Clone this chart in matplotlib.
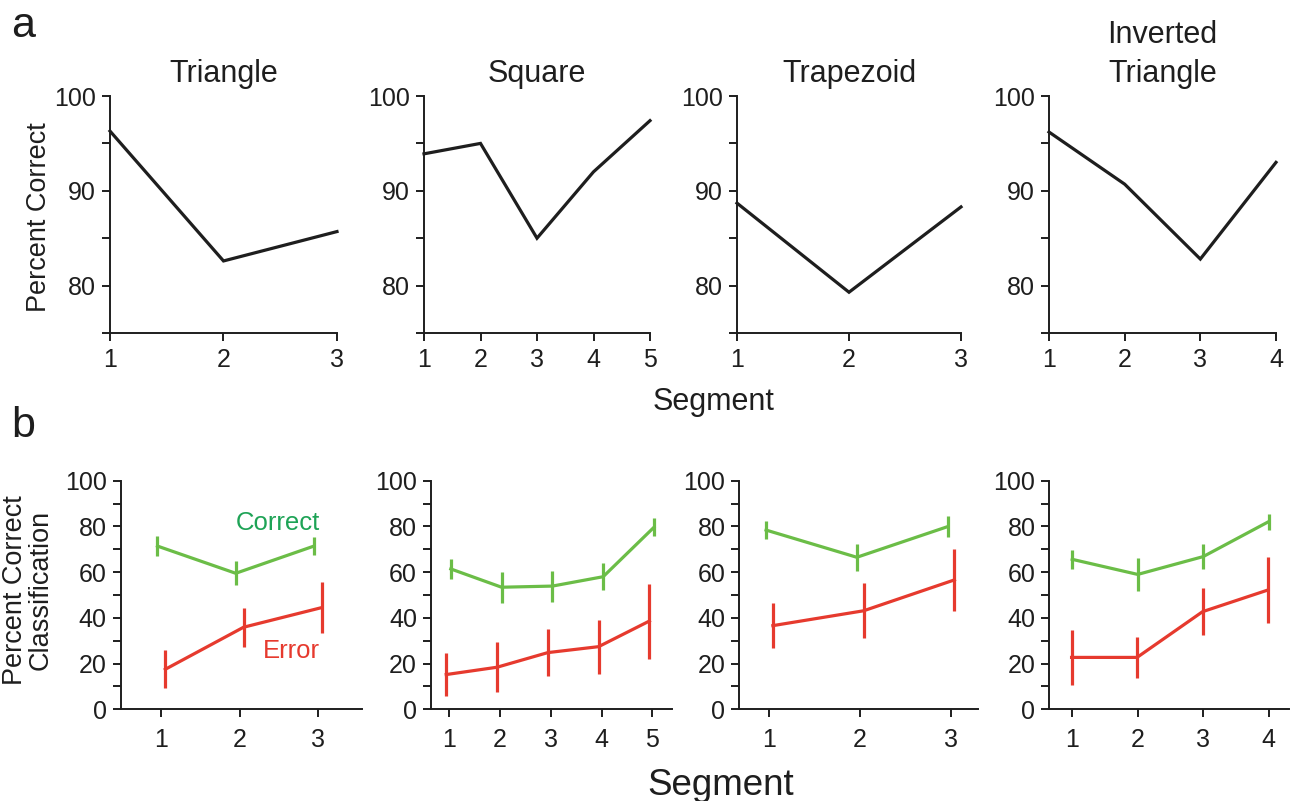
import matplotlib
matplotlib.use("Agg")
import matplotlib.pyplot as plt

plt.rcParams['font.family'] = ['Liberation Sans', 'DejaVu Sans']

# ---------------- data ----------------
shapes = ["Triangle", "Square", "Trapezoid", "Inverted\nTriangle"]
n_segments = [3, 5, 3, 4]

top_triangle = [96.3, 82.6, 85.7]
top_square = [93.9, 95.0, 85.0, 92.0, 97.4]
top_trapezoid = [88.7, 79.3, 88.3]
top_inverted = [96.2, 90.7, 82.8, 93.0]

correct_triangle = [71.4, 59.5, 71.4]
correct_triangle_err = [4.4, 5.2, 4.0]
correct_square = [61.4, 53.4, 53.9, 58.0, 79.6]
correct_square_err = [4.5, 6.7, 6.8, 6.0, 4.0]
correct_trapezoid = [78.4, 66.5, 79.9]
correct_trapezoid_err = [3.9, 6.0, 4.5]
correct_inverted = [65.6, 59.0, 66.8, 82.1]
correct_inverted_err = [4.2, 7.4, 5.5, 3.5]

error_triangle = [17.5, 35.9, 44.5]
error_triangle_err = [8.4, 8.5, 11.0]
error_square = [15.2, 18.4, 24.8, 27.4, 38.6]
error_square_err = [9.3, 10.9, 10.3, 11.8, 16.4]
error_trapezoid = [36.6, 43.1, 56.6]
error_trapezoid_err = [9.7, 12.1, 13.4]
error_inverted = [22.7, 22.7, 42.7, 52.2]
error_inverted_err = [12.2, 9.0, 10.2, 14.4]

top_values = [top_triangle, top_square, top_trapezoid, top_inverted]
correct_values = [correct_triangle, correct_square, correct_trapezoid, correct_inverted]
correct_errs = [correct_triangle_err, correct_square_err, correct_trapezoid_err, correct_inverted_err]
error_values = [error_triangle, error_square, error_trapezoid, error_inverted]
error_errs = [error_triangle_err, error_square_err, error_trapezoid_err, error_inverted_err]

# ---------------- style / layout ----------------
W, H = 1290, 801
BLACK = "#1e1e1e"
GREEN = "#6bbd47"
GREEN_TXT = "#1ea356"
RED = "#e63a2e"
TICK_FS = 18
LW_SPINE = 1.4

top_px = [(110, 337), (424, 650), (737, 961), (1049, 1276)]
top_y = (96, 333)
bot_px = [(120.7, 361.7), (431, 671.7), (739.3, 978), (1049.3, 1289)]
bot_y = (480.7, 709.3)
bot_xlim = [(0.48, 3.56), (0.64, 5.38), (0.67, 3.30), (0.65, 4.31)]
dodge_correct = [-0.05, 0.03, -0.035, 0.0]
dodge_error = [0.05, -0.06, 0.04, -0.01]


def px_axes(x0, x1, y0, y1):
    return fig.add_axes([x0 / W, 1 - y1 / H, (x1 - x0) / W, (y1 - y0) / H])


def style_axes(ax, pad_x, pad_y):
    for s in ("top", "right"):
        ax.spines[s].set_visible(False)
    for s in ("left", "bottom"):
        ax.spines[s].set_linewidth(LW_SPINE)
        ax.spines[s].set_color(BLACK)
    ax.tick_params(axis="both", direction="out", length=5.5, width=LW_SPINE,
                   color=BLACK, labelsize=TICK_FS, labelcolor=BLACK)
    ax.tick_params(axis="x", pad=pad_x)
    ax.tick_params(axis="y", pad=pad_y)


fig = plt.figure(figsize=(W / 100, H / 100), dpi=100)

# ---------------- row a ----------------
for i in range(4):
    ax = px_axes(top_px[i][0], top_px[i][1], *top_y)
    n = n_segments[i]
    xs = list(range(1, n + 1))
    ax.plot(xs, top_values[i], color=BLACK, lw=2.3, clip_on=False,
            solid_joinstyle="miter")
    ax.set_xlim(1, n)
    ax.set_ylim(75, 100)
    ax.set_xticks(xs)
    ax.set_yticks([75, 80, 85, 90, 95, 100],
                  labels=["", "80", "", "90", "", "100"])
    style_axes(ax, pad_x=5, pad_y=4.5)
    ax.text(0.5, 1 + 14 / (top_y[1] - top_y[0]), shapes[i], transform=ax.transAxes,
            ha="center", va="baseline", fontsize=22, color=BLACK, linespacing=1.4)

# ---------------- row b ----------------
for i in range(4):
    ax = px_axes(bot_px[i][0], bot_px[i][1], *bot_y)
    n = n_segments[i]
    xs = list(range(1, n + 1))
    xc = [x + dodge_correct[i] for x in xs]
    xe = [x + dodge_error[i] for x in xs]
    ax.errorbar(xc, correct_values[i], yerr=correct_errs[i], color=GREEN,
                lw=2.3, elinewidth=2.3, capsize=0, clip_on=False)
    ax.errorbar(xe, error_values[i], yerr=error_errs[i], color=RED,
                lw=2.3, elinewidth=2.3, capsize=0, clip_on=False)
    ax.set_xlim(*bot_xlim[i])
    ax.set_ylim(0, 100)
    ax.set_xticks(xs)
    yt = list(range(0, 101, 10))
    ax.set_yticks(yt, labels=[str(v) if v % 20 == 0 else "" for v in yt])
    style_axes(ax, pad_x=8, pad_y=4.5)
    if i == 0:
        ax.text(3.03, 78.4, "Correct", color=GREEN_TXT, fontsize=18.5,
                ha="right", va="baseline")
        ax.text(3.03, 22.3, "Error", color=RED, fontsize=18.5,
                ha="right", va="baseline")

# ---------------- figure texts ----------------
fig.text(11 / W, 1 - 37 / H, "a", fontsize=31, ha="left", va="baseline", color=BLACK)
fig.text(11 / W, 1 - 437 / H, "b", fontsize=31, ha="left", va="baseline", color=BLACK)
fig.text(39 / W, 1 - 217 / H, "Percent Correct", rotation=90, fontsize=19.5,
         ha="center", va="center", color=BLACK)
fig.text(28 / W, 1 - 590 / H, "Percent Correct\nClassification", rotation=90,
         fontsize=19.5, ha="center", va="center", linespacing=1.0, color=BLACK)
fig.text(714 / W, 1 - 410 / H, "Segment", fontsize=22, ha="center",
         va="baseline", color=BLACK)
fig.text(721 / W, 1 - 795 / H, "Segment", fontsize=26.5, ha="center",
         va="baseline", color=BLACK)

fig.savefig("out.png", dpi=100)
